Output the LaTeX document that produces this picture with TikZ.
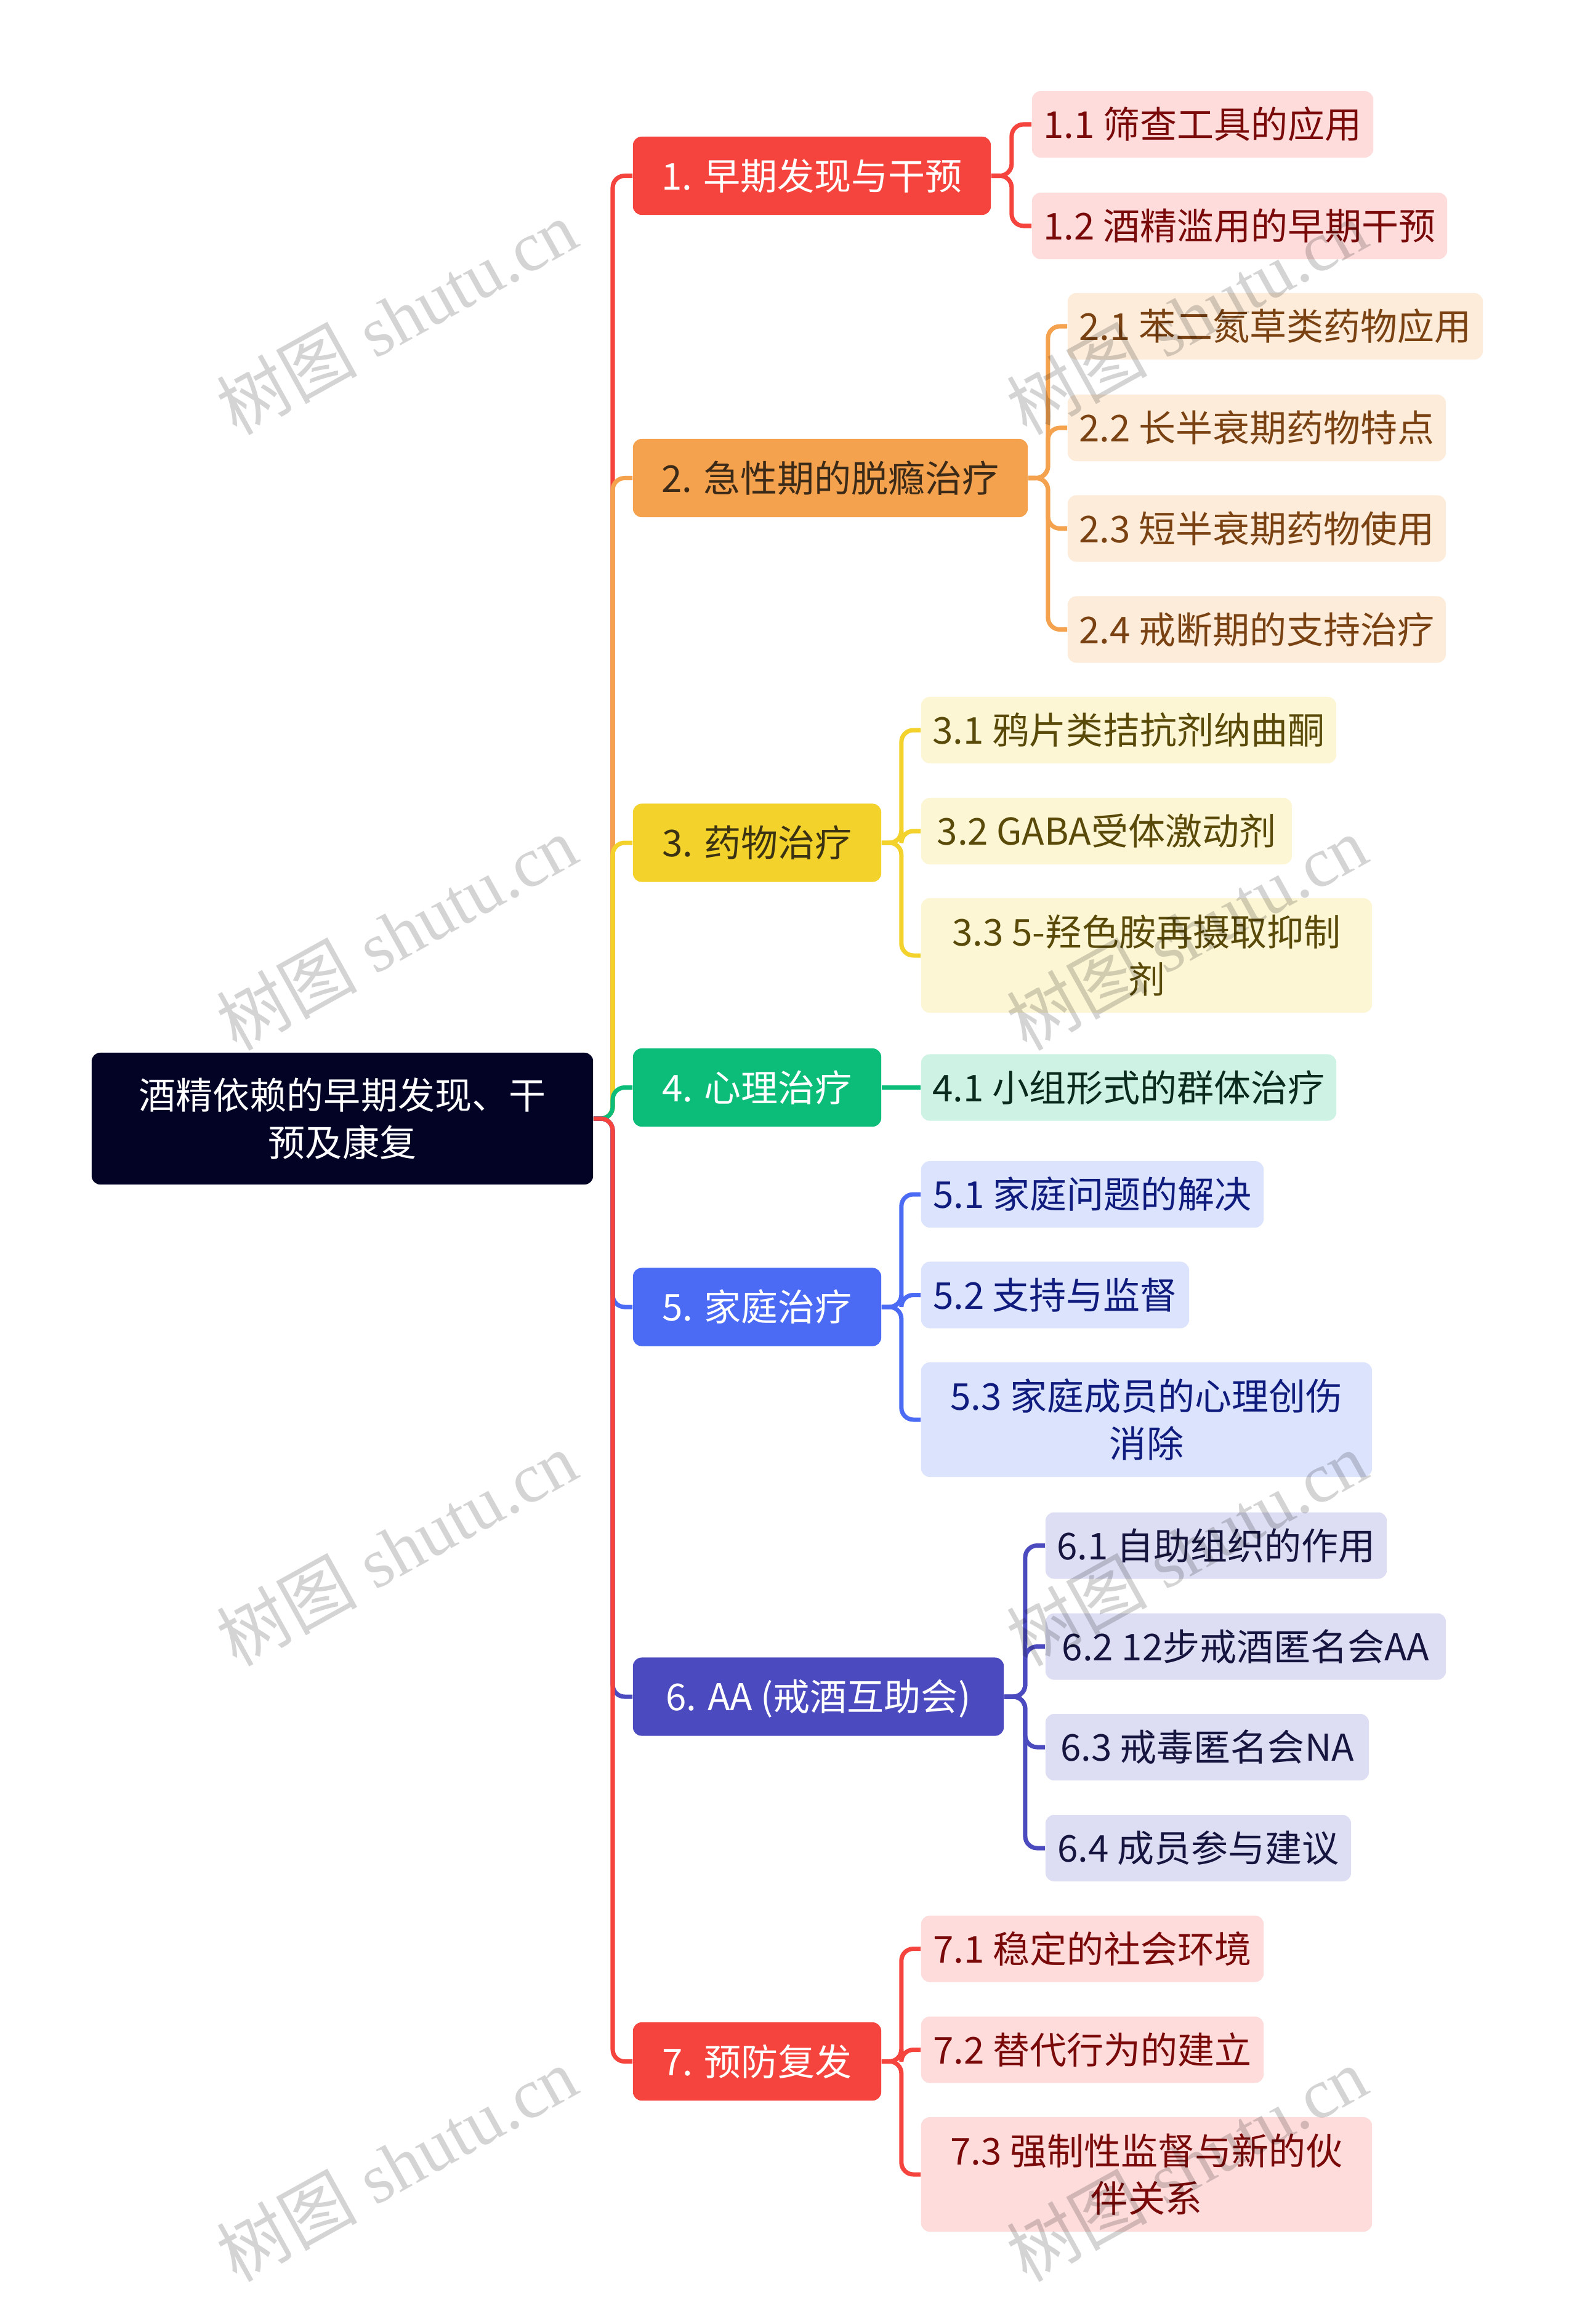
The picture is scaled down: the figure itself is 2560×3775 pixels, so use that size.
\documentclass[tikz,border=0pt]{standalone}
\usepackage{fontspec}
\newfontfamily\cjk{Noto Sans CJK SC}
\newfontfamily\wmserif{Liberation Serif}
\definecolor{cRoot}{HTML}{020325}
\definecolor{cRed}{HTML}{F5443D}
\definecolor{cOra}{HTML}{F5A24F}
\definecolor{cYel}{HTML}{F2D22B}
\definecolor{cGre}{HTML}{0CBD7A}
\definecolor{cBlu}{HTML}{4B6BF5}
\definecolor{cInd}{HTML}{4B4ABE}
\definecolor{fRed}{HTML}{FDDCDB}
\definecolor{fOra}{HTML}{FDECDA}
\definecolor{fYel}{HTML}{FCF6D4}
\definecolor{fGre}{HTML}{CEF2E3}
\definecolor{fBlu}{HTML}{DCE3FD}
\definecolor{fInd}{HTML}{DDDDF3}
\definecolor{tRed}{HTML}{7A0A0A}
\definecolor{tOra}{HTML}{7A4212}
\definecolor{tYel}{HTML}{5A4A0A}
\definecolor{tGre}{HTML}{0A2A1E}
\definecolor{tBlu}{HTML}{0F1C7E}
\definecolor{tInd}{HTML}{15153F}
\definecolor{tTwo}{HTML}{3A2A17}
\definecolor{tThree}{HTML}{3A3212}
\begin{document}
\begin{tikzpicture}[x=0.01cm,y=-0.01cm,
  box/.style={rounded corners=4pt, inner sep=0pt, align=center,
    font=\cjk\fontsize{17.07pt}{21.9pt}\selectfont},
  one/.style={text height=14pt, text depth=1pt},
  lone/.style={box, one, minimum height=1.27cm},
  ltwo/.style={box, one, minimum height=1.08cm},
  ltwob/.style={box, minimum height=1.86cm},
  rootbox/.style={box, fill=cRoot, text=white, minimum width=8.14cm, minimum height=2.14cm},
  conn/.style={line width=2pt, rounded corners=5.5pt},
  wm/.style={rotate=29, text=black, text opacity=0.17, inner sep=0pt,
    font=\wmserif\fontsize{32.5pt}{32.5pt}\selectfont}
]
\useasboundingbox (0,0) rectangle (2560,3775);
\fill[white] (0,0) rectangle (2560,3775);

% root
\node[rootbox] (root) at (556,1817) {酒精依赖的早期发现、干\\预及康复};

% level 1
\node[lone, fill=cRed, text=white, minimum width=5.81cm] (n1) at (1318.5,285.5) {1. 早期发现与干预};
\node[lone, fill=cOra, text=tTwo, minimum width=6.41cm] (n2) at (1348.5,776.5) {2. 急性期的脱瘾治疗};
\node[lone, fill=cYel, text=tThree, minimum width=4.03cm] (n3) at (1229.5,1369) {3. 药物治疗};
\node[lone, fill=cGre, text=white, minimum width=4.03cm] (n4) at (1229.5,1766.5) {4. 心理治疗};
\node[lone, fill=cBlu, text=white, minimum width=4.03cm] (n5) at (1229.5,2123) {5. 家庭治疗};
\node[lone, fill=cInd, text=white, minimum width=6.02cm] (n6) at (1329,2756) {6. AA (戒酒互助会)};
\node[lone, fill=cRed, text=white, minimum width=4.03cm] (n7) at (1229.5,3348.5) {7. 预防复发};

% level 2
\node[ltwo, fill=fRed, text=tRed, minimum width=5.54cm] (n11) at (1953,202) {1.1 筛查工具的应用};
\node[ltwo, fill=fRed, text=tRed, minimum width=6.74cm] (n12) at (2013,367) {1.2 酒精滥用的早期干预};
\node[ltwo, fill=fOra, text=tOra, minimum width=6.74cm] (n21) at (2071,530) {2.1 苯二氮草类药物应用};
\node[ltwo, fill=fOra, text=tOra, minimum width=6.14cm] (n22) at (2041,695) {2.2 长半衰期药物特点};
\node[ltwo, fill=fOra, text=tOra, minimum width=6.14cm] (n23) at (2041,858.5) {2.3 短半衰期药物使用};
\node[ltwo, fill=fOra, text=tOra, minimum width=6.14cm] (n24) at (2041,1022.5) {2.4 戒断期的支持治疗};
\node[ltwo, fill=fYel, text=tYel, minimum width=6.74cm] (n31) at (1833,1186) {3.1 鸦片类拮抗剂纳曲酮};
\node[ltwo, fill=fYel, text=tYel, minimum width=6.02cm] (n32) at (1797,1350) {3.2 GABA受体激动剂};
\node[ltwob, fill=fYel, text=tYel, minimum width=7.32cm] (n33) at (1862,1552) {3.3 5-羟色胺再摄取抑制\\剂};
\node[ltwo, fill=fGre, text=tGre, minimum width=6.74cm] (n41) at (1833,1766.5) {4.1 小组形式的群体治疗};
\node[ltwo, fill=fBlu, text=tBlu, minimum width=5.56cm] (n51) at (1774,1940) {5.1 家庭问题的解决};
\node[ltwo, fill=fBlu, text=tBlu, minimum width=4.35cm] (n52) at (1713.5,2103.5) {5.2 支持与监督};
\node[ltwob, fill=fBlu, text=tBlu, minimum width=7.32cm] (n53) at (1862,2306) {5.3 家庭成员的心理创伤\\消除};
\node[ltwo, fill=fInd, text=tInd, minimum width=5.54cm] (n61) at (1975,2510.5) {6.1 自助组织的作用};
\node[ltwo, fill=fInd, text=tInd, minimum width=6.50cm] (n62) at (2023,2674.5) {6.2 12步戒酒匿名会AA};
\node[ltwo, fill=fInd, text=tInd, minimum width=5.25cm] (n63) at (1960.5,2838) {6.3 戒毒匿名会NA};
\node[ltwo, fill=fInd, text=tInd, minimum width=4.96cm] (n64) at (1946,3002) {6.4 成员参与建议};
\node[ltwo, fill=fRed, text=tRed, minimum width=5.56cm] (n71) at (1774,3165.5) {7.1 稳定的社会环境};
\node[ltwo, fill=fRed, text=tRed, minimum width=5.56cm] (n72) at (1774,3329.5) {7.2 替代行为的建立};
\node[ltwob, fill=fRed, text=tRed, minimum width=7.32cm] (n73) at (1862,3532) {7.3 强制性监督与新的伙\\伴关系};

% junction coordinates
\coordinate (jr) at (995,1817);
\path (n1.east) ++(33,0) coordinate (j1);
\path (n2.east) ++(32,0) coordinate (j2);
\path (n3.east) ++(32,0) coordinate (j3);
\path (n5.east) ++(32,0) coordinate (j5);
\path (n6.east) ++(34,0) coordinate (j6);
\path (n7.east) ++(32,0) coordinate (j7);

% level-1 connectors
\draw[conn, cRed] (root.east) -- (jr) |- (n1.west);
\draw[conn, cOra] (root.east) -- (jr) |- (n2.west);
\draw[conn, cYel] (root.east) -- (jr) |- (n3.west);
\draw[conn, cGre] (root.east) -- (jr) |- (n4.west);
\draw[conn, cBlu] (root.east) -- (jr) |- (n5.west);
\draw[conn, cInd] (root.east) -- (jr) |- (n6.west);
\draw[conn, cRed] (root.east) -- (jr) |- (n7.west);

% level-2 connectors
\foreach \c in {n11,n12} \draw[conn, cRed] (n1.east) -- (j1) |- (\c.west);
\foreach \c in {n21,n22,n23,n24} \draw[conn, cOra] (n2.east) -- (j2) |- (\c.west);
\foreach \c in {n31,n32,n33} \draw[conn, cYel] (n3.east) -- (j3) |- (\c.west);
\draw[conn, cGre] (n4.east) -- (n41.west);
\foreach \c in {n51,n52,n53} \draw[conn, cBlu] (n5.east) -- (j5) |- (\c.west);
\foreach \c in {n61,n62,n63,n64} \draw[conn, cInd] (n6.east) -- (j6) |- (\c.west);
\foreach \c in {n71,n72,n73} \draw[conn, cRed] (n7.east) -- (j7) |- (\c.west);

% watermark
\foreach \x/\i in {644/a,1927/b} \foreach \y/\k in {515/1,1515/2,2515/3,3515/4}
  \node[wm] (wm\i\k) at (\x,\y) {{\cjk 树图} shutu.cn};
\end{tikzpicture}
\end{document}
